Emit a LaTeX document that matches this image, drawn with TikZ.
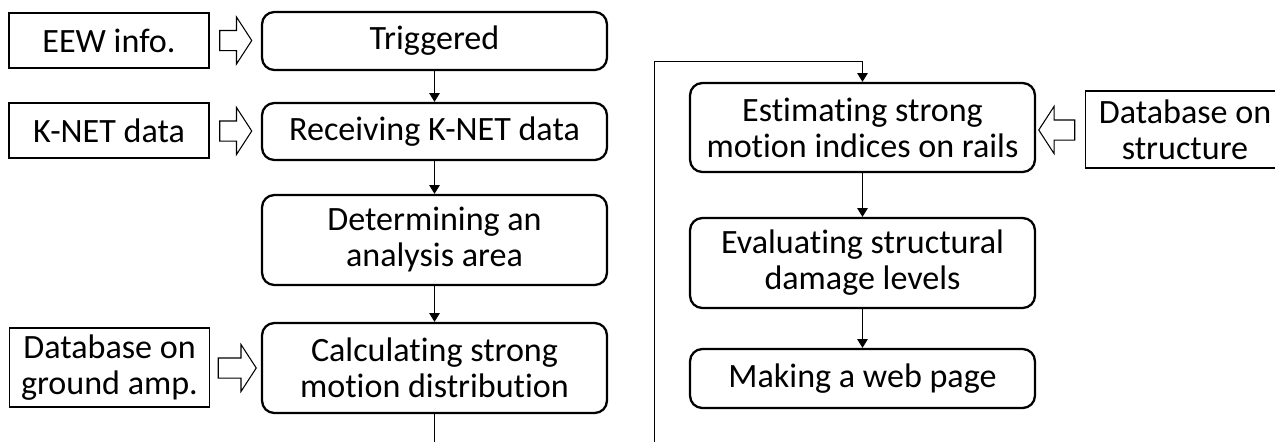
\documentclass[tikz,border=0pt]{standalone}
\usepackage{fontspec}
\setmainfont{Carlito}[Ligatures=NoCommon]
\usetikzlibrary{positioning}
\usetikzlibrary{arrows.meta,shapes.arrows}
\usetikzlibrary{calc}
\tikzstyle{process}=[draw,line width=1.3pt,rounded corners=7pt,minimum width=6.9cm,align=center,inner sep=0pt]
\tikzstyle{datain}=[draw,line width=0.6pt,minimum width=4cm,align=center,inner sep=0pt]
\tikzstyle{hollow}=[single arrow,draw,line width=0.6pt,inner xsep=0pt,inner ysep=0.19cm,minimum height=0.64cm,single arrow head extend=0.27cm,single arrow tip angle=114]
\tikzstyle{edge} = [draw,line width=0.5pt,-{Triangle[length=5pt,width=6pt]}]

\begin{document}
\begin{tikzpicture}[x=0.02cm,y=-0.02cm,font=\fontsize{19.4pt}{20.5pt}\selectfont]
\useasboundingbox (0,0) rectangle (1275,441);
\clip (0,0) rectangle (1275,441);

    % First the processing steps
    \foreach \pos/\name/\h/\txt in {{(434.5,41)/trig/1.16cm/Triggered}, {(434.5,131.5)/recv/1.14cm/Receiving K-NET data}, {(434.5,240)/det/1.8cm/Determining an\\analysis area}, {(434.5,368)/calc/1.8cm/Calculating strong\\motion distribution}, {(862.5,127.5)/est/1.78cm/Estimating strong\\motion indices on rails}, {(862.5,263)/eval/1.8cm/Evaluating structural\\damage levels}, {(862.5,378.5)/make/1.18cm/Making a web page}}
        \node[process, minimum height=\h] (\name) at \pos {\txt};

    % Then the input data
    \foreach \pos/\name/\h/\txt in {{(109,40.5)/eew/1.1cm/EEW info.}, {(109,130.5)/knet/1.1cm/K-NET data}, {(109.5,367.5)/gamp/1.58cm/Database on\\ground amp.}, {(1185,129.5)/struc/1.54cm/Database on\\structure}}
        \node[datain, minimum height=\h] (\name) at \pos {\txt};

    % Hollow arrows for the inputs
    \node[hollow] (a1) at (232.5,40.5) {};
    \node[hollow] (a2) at (232.5,131) {};
    \node[hollow, minimum height=0.76cm] (a3) at (234,368) {};
    \node[hollow, minimum height=0.72cm, shape border rotate=180] (a4) at (1060,130) {};

    % Connect the steps
  \foreach \source/ \dest in {trig/recv, recv/det, det/calc, est/eval, eval/make}
          \path[edge] (\source) -- (\dest);
\coordinate (low) at (654,470);
\coordinate (high) at (654,61);
\path[edge] (calc.south) |- (low) -- (high) -| (est.north);

   \end{tikzpicture}
\end{document}
